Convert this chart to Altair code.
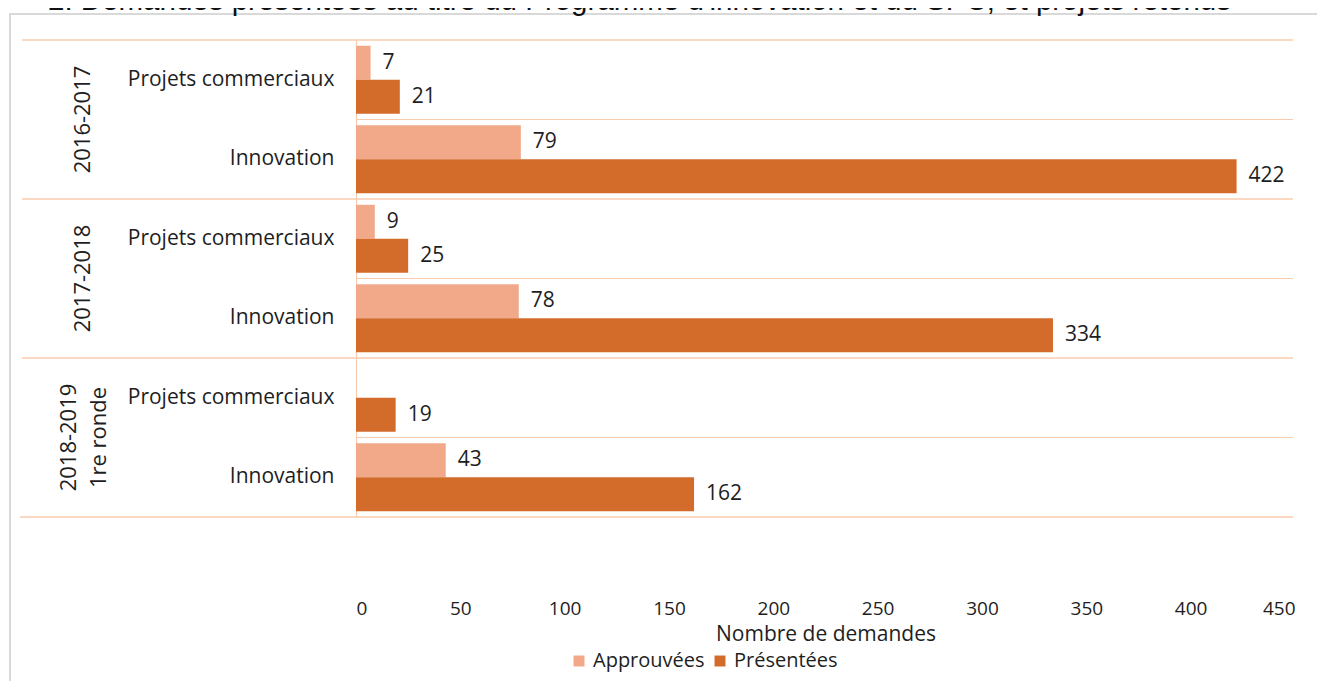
import altair as alt
import pandas as pd

# ---- data ----
groups = ["2016-2017", "2017-2018", "2018-2019\n1re ronde"]
categories = ["Projets commerciaux", "Innovation"]
series = ["Approuvées", "Présentées"]
approuvees = [7, 79, 9, 78, None, 43]
presentees = [21, 422, 25, 334, 19, 162]
x_ticks = [0, 50, 100, 150, 200, 250, 300, 350, 400, 450]
title_text = "2.  Demandes présentées au titre du Programme d'innovation et du SPC, et projets retenus"

keys = [f"{g}|{c}" for g in groups for c in categories]

rows = []
for i, k in enumerate(keys):
    if approuvees[i] is not None:
        rows.append({"key": k, "series": series[0], "value": approuvees[i]})
    rows.append({"key": k, "series": series[1], "value": presentees[i]})
df = pd.DataFrame(rows)

grp_df = pd.DataFrame({"key": [f"{g}|{categories[1]}" for g in groups],
                       "label": [g.split("\n") for g in groups],
                       "n": [len(g.split("\n")) for g in groups]})
top_df = pd.DataFrame({"key": [f"{g}|{categories[0]}" for g in groups]})
sub_df = pd.DataFrame({"key": [f"{g}|{categories[1]}" for g in groups]})

W, H = 939, 477
FONT = "Open Sans"
LIGHT, DARK = "#F1A98A", "#D36B2B"
GRID = "#F8CBAD"
TXT = "#1e1e1e"

yscale = alt.Scale(domain=keys, paddingInner=0, paddingOuter=0)
color = alt.Color("series:N",
                  scale=alt.Scale(domain=series, range=[LIGHT, DARK]),
                  legend=alt.Legend(title=None, orient="none", legendX=213, legendY=611,
                                    direction="horizontal", symbolType="square",
                                    symbolSize=120, symbolStrokeWidth=0,
                                    labelFont=FONT, labelFontSize=20, labelColor=TXT,
                                    columnPadding=5, labelOffset=4))

base = alt.Chart(df)

y_enc = alt.Y("key:N", sort=keys, scale=yscale,
              axis=alt.Axis(title=None, ticks=False, labelPadding=22, labelLimit=400,
                            labelExpr="split(datum.label, '|')[1]",
                            labelFont=FONT, labelFontSize=21, labelColor=TXT,
                            domainColor=GRID, domainWidth=1.2, grid=False))
x_enc = alt.X("value:Q",
              scale=alt.Scale(domain=[0, 450], nice=False),
              axis=alt.Axis(title="Nombre de demandes", values=x_ticks, grid=False,
                            domain=False, ticks=False, labelPadding=82,
                            labelFont=FONT, labelFontSize=19, labelColor=TXT,
                            titleFont=FONT, titleFontSize=21, titleFontWeight="normal",
                            titleColor=TXT, titlePadding=5))
yoff = alt.YOffset("series:N", sort=series,
                   scale=alt.Scale(domain=series, paddingInner=0, paddingOuter=0.17))

frame = alt.Chart(pd.DataFrame({"a": [0]})).mark_rect(
    fillOpacity=0, stroke="#D9D9D9", strokeWidth=2
).encode(x=alt.value(-346), x2=alt.value(W + 400), y=alt.value(-26), y2=alt.value(H + 400))

title = alt.Chart(pd.DataFrame({"t": [title_text]})).mark_text(
    font="Liberation Sans", fontSize=29.5, align="left", baseline="alphabetic", color="#111"
).encode(x=alt.value(-308), y=alt.value(-30), text="t:N")

group_lines = alt.Chart(top_df).mark_rule(color=GRID, strokeWidth=1.5).encode(
    y=alt.Y("key:N", sort=keys, scale=yscale, bandPosition=0),
    x=alt.value(-334), x2=alt.value(W - 2))
bottom_line = alt.Chart(pd.DataFrame({"a": [0]})).mark_rule(color=GRID, strokeWidth=1.5).encode(
    y=alt.value(H), x=alt.value(-336), x2=alt.value(W - 2))
sub_lines = alt.Chart(sub_df).mark_rule(color=GRID, strokeWidth=1.2).encode(
    y=alt.Y("key:N", sort=keys, scale=yscale, bandPosition=0),
    x=alt.value(0), x2=alt.value(W - 2))

bars = base.mark_bar().encode(x=x_enc, y=y_enc, yOffset=yoff, color=color)
labels = base.mark_text(align="left", baseline="middle", dx=12, font=FONT,
                        fontSize=21, color=TXT).encode(
    x="value:Q", y=alt.Y("key:N", sort=keys, scale=yscale), yOffset=yoff, text="value:Q")

grp_text = dict(angle=270, align="center", baseline="middle", font=FONT, fontSize=22,
                color=TXT, lineHeight=30)
grp_y = alt.Y("key:N", sort=keys, scale=yscale, bandPosition=0)
grp_labels1 = alt.Chart(grp_df).transform_filter("datum.n == 1").mark_text(**grp_text).encode(
    y=grp_y, x=alt.value(-273), text="label")
grp_labels2 = alt.Chart(grp_df).transform_filter("datum.n == 2").mark_text(**grp_text).encode(
    y=grp_y, x=alt.value(-287), text="label")

chart = alt.layer(frame, title, group_lines, bottom_line, sub_lines, bars, labels,
                  grp_labels1, grp_labels2).properties(
    width=W, height=H,
    autosize=alt.AutoSizeParams(type="none"),
    padding={"left": 348, "top": 32, "right": 22, "bottom": 164},
).configure_view(stroke=None)

chart.save("out.html", embed_options={"renderer": "svg", "actions": False})
